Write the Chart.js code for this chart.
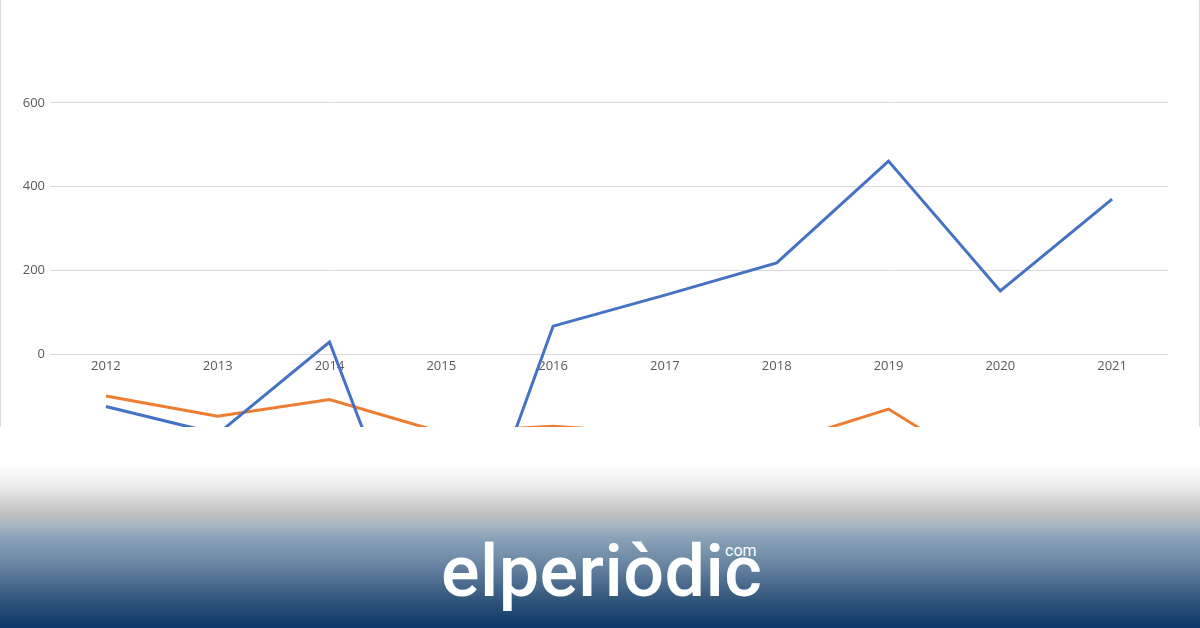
<!DOCTYPE html>
<html>
<head>
<meta charset="utf-8">
<script src="https://cdn.jsdelivr.net/npm/chart.js@4.4.1/dist/chart.umd.min.js"></script>
<style>
  html, body { margin: 0; padding: 0; }
  body { width: 1200px; height: 628px; overflow: hidden; background: #fff; position: relative; }
  #wrap { position: absolute; left: 0; top: 0; width: 1200px; height: 460px; }
  #edgeL, #edgeR { position: absolute; top: 0; width: 1px; height: 430px; background: #d9d9d9; }
  #edgeL { left: 0; }
  #edgeR { left: 1199px; }
  #shade {
    position: absolute; left: 0; top: 427px; width: 1200px; height: 201px;
    background: linear-gradient(to bottom,
      #ffffff 0px, #ffffff 38px, #e9e9e9 62px, #c0c0c0 86px,
      #a9b6c2 98px, #8aa2b8 111px, #6482a0 140px, #36597e 170px, #0a3766 201px);
  }
  #logo {
    position: absolute; left: 441px; top: 109px;
    font-family: Roboto, sans-serif; font-weight: 500; font-size: 72px;
    line-height: 1; color: #fff; letter-spacing: 0.4px; white-space: nowrap;
  }
  #com {
    position: absolute; left: 725px; top: 116px;
    font-family: Roboto, sans-serif; font-weight: 400; font-size: 16px;
    line-height: 1; color: #fff;
  }
</style>
</head>
<body>
<div id="wrap"><canvas id="c"></canvas></div>
<div id="edgeL"></div>
<div id="edgeR"></div>
<div id="shade">
  <div id="logo">elperiòdic</div>
  <div id="com">com</div>
</div>
<script>
const years = ['2012', '2013', '2014', '2015', '2016', '2017', '2018', '2019', '2020', '2021'];
const seriesBlue = [-125, -190, 29, -670, 67, 141, 218, 461, 151, 370];
const seriesOrange = [-100, -148, -108, -186, -172, -190, -215, -131, -296, -250];
const yTicks = [-200, 0, 200, 400, 600];

const ctx = document.getElementById('c');

new Chart(ctx, {
    type: 'line',
    data: {
        labels: years,
        datasets: [
            {
                label: 'Serie 1',
                data: seriesBlue,
                borderColor: '#4472C4',
                borderWidth: 3,
                pointRadius: 0,
                tension: 0
            },
            {
                label: 'Serie 2',
                data: seriesOrange,
                borderColor: '#ED7D31',
                borderWidth: 3,
                pointRadius: 0,
                tension: 0
            }
        ]
    },
    options: {
        responsive: true,
        maintainAspectRatio: false,
        animation: false,
        layout: {
            padding: { top: 19, bottom: 22, right: 32, left: 0 }
        },
        plugins: {
            legend: { display: false },
            tooltip: { enabled: false }
        },
        scales: {
            x: {
                position: { y: 0 },
                offset: true,
                grid: { display: false },
                border: { display: false },
                ticks: {
                    color: '#595959',
                    padding: -4,
                    maxRotation: 0,
                    font: { family: 'Open Sans', size: 13 }
                }
            },
            y: {
                min: -200,
                max: 800,
                afterBuildTicks: (scale) => {
                    scale.ticks = yTicks.map(v => ({ value: v }));
                },
                afterFit: (scale) => {
                    scale.width = 50;
                },
                grid: {
                    color: '#d9d9d9',
                    lineWidth: 1,
                    drawTicks: false
                },
                border: { display: false },
                ticks: {
                    color: '#595959',
                    padding: 5,
                    font: { family: 'Open Sans', size: 13 }
                }
            }
        }
    }
});
</script>
</body>
</html>
